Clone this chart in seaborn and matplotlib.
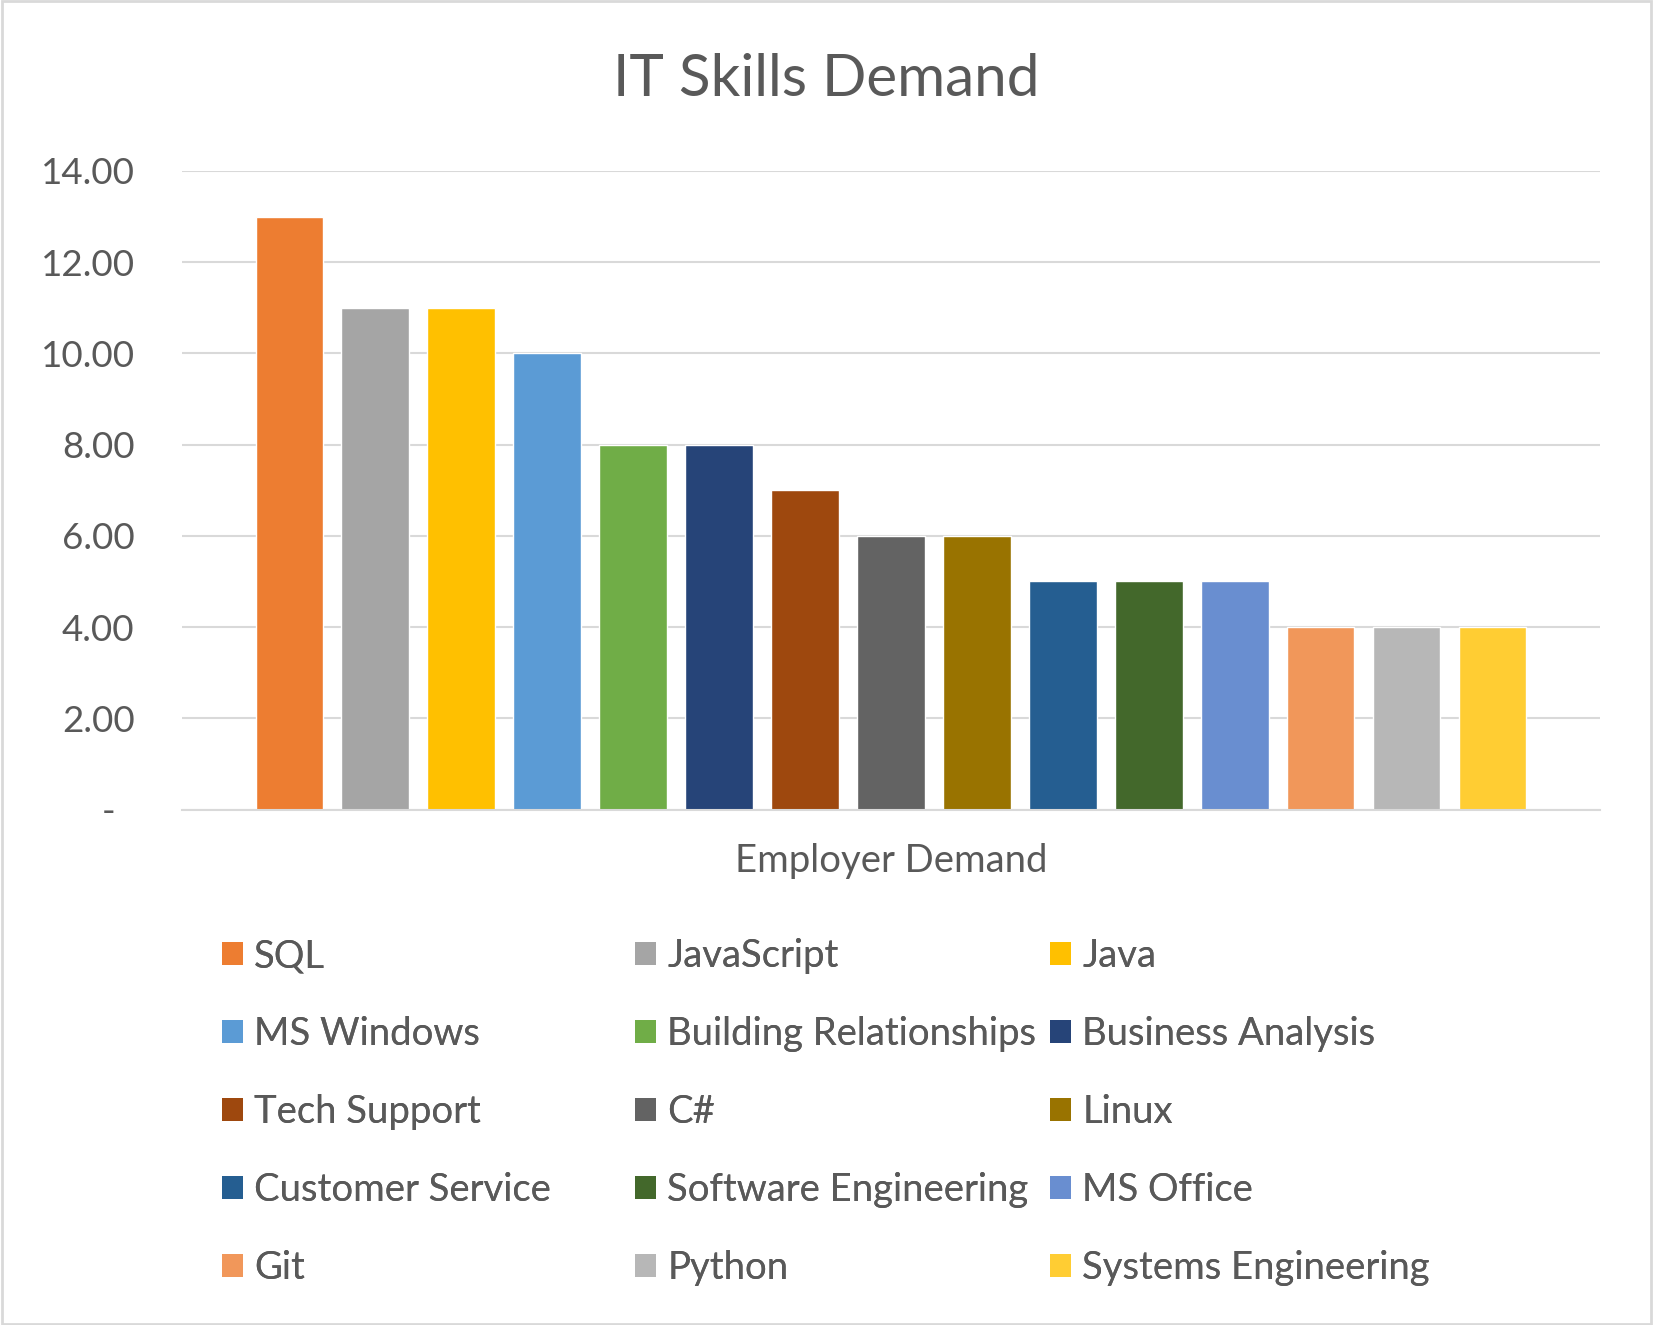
import matplotlib
matplotlib.use("Agg")
import matplotlib.pyplot as plt
import seaborn as sns
import pandas as pd
from matplotlib.patches import Patch, Rectangle

skills = ["SQL", "JavaScript", "Java", "MS Windows", "Building Relationships",
          "Business Analysis", "Tech Support", "C#", "Linux", "Customer Service",
          "Software Engineering", "MS Office", "Git", "Python", "Systems Engineering"]
demand = [13, 11, 11, 10, 8, 8, 7, 6, 6, 5, 5, 5, 4, 4, 4]
colors = ["#ED7D31", "#A5A5A5", "#FFC000", "#5B9BD5", "#70AD47", "#264478",
          "#9E480E", "#636363", "#997300", "#255E91", "#43682B", "#698ED0",
          "#F1975A", "#B7B7B7", "#FFCD33"]
yticks = [0, 2, 4, 6, 8, 10, 12, 14]
ytick_labels = ["-  ", "2.00", "4.00", "6.00", "8.00", "10.00", "12.00", "14.00"]

sns.set_theme(style="white")
plt.rcParams['font.family'] = ['Lato', 'DejaVu Sans']
TXT = "#595959"

df = pd.DataFrame({"skill": skills, "demand": demand})

fig = plt.figure(figsize=(16.53, 13.25), dpi=100)
ax = fig.add_axes([0.110, 0.389, 0.858, 0.482])

sns.barplot(data=df, x="skill", y="demand", hue="skill", palette=colors,
            width=0.785, ax=ax, legend=False, saturation=1)

ax.set_xlim(-1.25, 15.25)
ax.set_ylim(0, 14)
ax.set_yticks(yticks)
ax.set_yticklabels(ytick_labels, fontsize=26.5, color=TXT)
ax.tick_params(axis='y', length=0, pad=34)
ax.set_xticks([])
ax.set_ylabel("")
ax.set_xlabel("Employer Demand", fontsize=27.5, color=TXT, labelpad=24)
ax.grid(axis='y', color="#D9D9D9", linewidth=1.5)
ax.set_axisbelow(True)
for s in ["top", "right", "left"]:
    ax.spines[s].set_visible(False)
ax.spines["bottom"].set_color("#D9D9D9")
ax.spines["bottom"].set_linewidth(1.5)

fig.text(0.5, 0.940, "IT Skills Demand", ha="center", va="center",
         fontsize=42, color=TXT)

# legend: three columns, row-wise order
col_x = [0.134, 0.384, 0.635]
for c in range(3):
    idx = list(range(c, 15, 3))
    handles = [Patch(facecolor=colors[i], edgecolor='none') for i in idx]
    labels = [skills[i] for i in idx]
    leg = fig.legend(handles, labels, loc="upper left",
                     bbox_to_anchor=(col_x[c], 0.292), frameon=False,
                     fontsize=27.5, labelcolor=TXT, handlelength=0.55,
                     handleheight=0.55, handletextpad=0.3, labelspacing=1.10,
                     borderpad=0, borderaxespad=0)
    fig.add_artist(leg)

fig.add_artist(Rectangle((0.001, 0.001), 0.998, 0.998, transform=fig.transFigure,
                         fill=False, edgecolor="#D9D9D9", linewidth=2))

fig.savefig("out.png", dpi=100, facecolor="white")
